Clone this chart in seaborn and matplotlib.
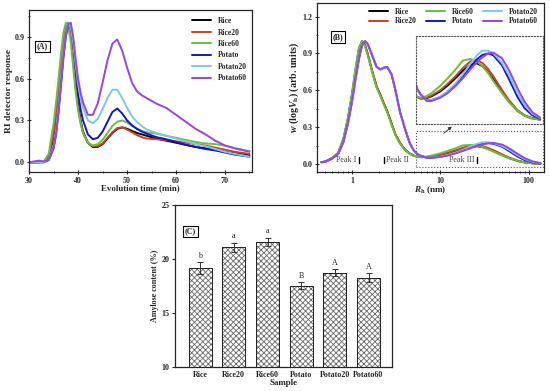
import numpy as np
import pandas as pd
import matplotlib
matplotlib.use("Agg")
import matplotlib.pyplot as plt
from matplotlib.patches import Rectangle
from matplotlib.ticker import MultipleLocator
import seaborn as sns

#### DATA ####
names = ["Rice", "Rice20", "Rice60", "Potato", "Potato20", "Potato60"]
colors = ["#000000", "#c8402a", "#6cbf3a", "#1414c8", "#7ec6ef", "#9b45dc"]

# (A) elution profiles
tA = [30, 32, 33, 34, 35, 35.5, 36, 36.5, 37, 37.5, 38, 38.5, 39, 39.5, 40, 40.5, 41,
      42, 43, 44, 45, 46, 47, 48, 49, 50, 51, 52, 53, 54, 56, 58, 60, 62, 64, 66, 68,
      70, 72, 75]
riA = [0, 0, 0.002, 0.03, 0.18, 0.32, 0.5, 0.68, 0.85, 0.96, 1.0, 0.93, 0.76, 0.57, 0.41,
       0.3, 0.22, 0.14, 0.11, 0.11, 0.13, 0.17, 0.21, 0.24, 0.25, 0.24, 0.225, 0.21, 0.2,
       0.19, 0.17, 0.155, 0.14, 0.125, 0.11, 0.1, 0.09, 0.075, 0.065, 0.05]
ri20A = [0, 0, 0.003, 0.04, 0.21, 0.36, 0.54, 0.72, 0.88, 0.98, 0.99, 0.9, 0.72, 0.54,
         0.39, 0.29, 0.21, 0.14, 0.115, 0.115, 0.135, 0.175, 0.215, 0.245, 0.25, 0.235,
         0.215, 0.195, 0.18, 0.17, 0.165, 0.16, 0.15, 0.14, 0.13, 0.12, 0.105, 0.09,
         0.075, 0.06]
ri60A = [0, 0, 0.005, 0.06, 0.28, 0.43, 0.6, 0.78, 0.93, 1.0, 0.97, 0.86, 0.68, 0.5, 0.37,
         0.28, 0.21, 0.14, 0.12, 0.13, 0.16, 0.21, 0.26, 0.29, 0.3, 0.285, 0.26, 0.24,
         0.225, 0.215, 0.205, 0.19, 0.175, 0.16, 0.145, 0.135, 0.13, 0.12, 0.1, 0.08]
poA = [0, 0, 0, 0.015, 0.1, 0.2, 0.36, 0.55, 0.75, 0.9, 0.99, 0.98, 0.86, 0.68, 0.5, 0.38,
       0.3, 0.2, 0.165, 0.175, 0.22, 0.29, 0.36, 0.385, 0.35, 0.3, 0.265, 0.24, 0.22,
       0.205, 0.18, 0.165, 0.145, 0.125, 0.11, 0.095, 0.085, 0.07, 0.055, 0.04]
po20A = [0, 0, 0, 0.02, 0.12, 0.23, 0.4, 0.6, 0.79, 0.93, 1.0, 0.97, 0.86, 0.7, 0.56,
         0.46, 0.39, 0.3, 0.28, 0.31, 0.38, 0.46, 0.52, 0.52, 0.46, 0.39, 0.33, 0.29,
         0.26, 0.235, 0.21, 0.19, 0.17, 0.15, 0.13, 0.115, 0.095, 0.075, 0.06, 0.04]
po60A = [0, 0.012, 0.005, 0.02, 0.11, 0.21, 0.37, 0.57, 0.77, 0.92, 0.99, 1.0, 0.9, 0.74,
         0.6, 0.5, 0.43, 0.34, 0.34, 0.42, 0.57, 0.73, 0.85, 0.88, 0.8, 0.68, 0.57, 0.51,
         0.48, 0.46, 0.42, 0.39, 0.34, 0.29, 0.24, 0.2, 0.155, 0.12, 0.1, 0.075]
seriesA = [riA, ri20A, ri60A, poA, po20A, po60A]

# (B) size distributions
rB = [0.45, 0.5, 0.6, 0.7, 0.8, 0.9, 1.0, 1.1, 1.2, 1.3, 1.4, 1.5, 1.7, 1.9, 2.1, 2.3,
      2.5, 2.8, 3.1, 3.5, 4.0, 4.5, 5.0, 5.5, 6.0, 7.0, 8.0, 10, 12, 15, 18, 22, 26, 30,
      35, 40, 50, 60, 75, 90, 110, 135]
riB = [0.015, 0.02, 0.05, 0.09, 0.2, 0.37, 0.56, 0.77, 0.94, 1.0, 0.97, 0.9, 0.75, 0.63,
       0.56, 0.49, 0.43, 0.33, 0.24, 0.17, 0.115, 0.085, 0.068, 0.06, 0.056, 0.057,
       0.062, 0.074, 0.088, 0.108, 0.126, 0.142, 0.145, 0.138, 0.122, 0.104, 0.072,
       0.048, 0.025, 0.013, 0.006, 0.003]
ri20B = [0.015, 0.02, 0.05, 0.09, 0.2, 0.37, 0.56, 0.77, 0.94, 1.0, 0.97, 0.9, 0.75, 0.63,
         0.56, 0.49, 0.43, 0.33, 0.24, 0.17, 0.115, 0.085, 0.068, 0.06, 0.057, 0.058,
         0.064, 0.077, 0.092, 0.113, 0.133, 0.15, 0.153, 0.146, 0.13, 0.112, 0.078,
         0.052, 0.027, 0.014, 0.007, 0.003]
ri60B = [0.015, 0.02, 0.05, 0.095, 0.21, 0.38, 0.58, 0.79, 0.95, 1.0, 0.96, 0.89, 0.74,
         0.62, 0.55, 0.48, 0.42, 0.32, 0.235, 0.165, 0.112, 0.083, 0.067, 0.06, 0.058,
         0.062, 0.07, 0.088, 0.106, 0.13, 0.152, 0.156, 0.15, 0.138, 0.12, 0.1, 0.07,
         0.047, 0.025, 0.013, 0.006, 0.003]
poB = [0.015, 0.02, 0.045, 0.085, 0.18, 0.33, 0.51, 0.7, 0.86, 0.97, 1.0, 0.98, 0.88,
       0.79, 0.77, 0.785, 0.79, 0.73, 0.6, 0.42, 0.28, 0.17, 0.11, 0.08, 0.066, 0.052,
       0.052, 0.06, 0.072, 0.092, 0.112, 0.136, 0.155, 0.166, 0.17, 0.165, 0.14, 0.105,
       0.06, 0.032, 0.014, 0.005]
po20B = [0.015, 0.02, 0.045, 0.085, 0.18, 0.33, 0.51, 0.7, 0.86, 0.97, 1.0, 0.98, 0.88,
         0.79, 0.77, 0.785, 0.79, 0.73, 0.6, 0.42, 0.28, 0.17, 0.11, 0.08, 0.066, 0.052,
         0.052, 0.061, 0.074, 0.095, 0.117, 0.144, 0.165, 0.177, 0.177, 0.17, 0.146,
         0.115, 0.07, 0.04, 0.018, 0.007]
po60B = [0.015, 0.02, 0.045, 0.085, 0.18, 0.33, 0.51, 0.7, 0.86, 0.97, 1.0, 0.98, 0.88,
         0.79, 0.77, 0.785, 0.79, 0.73, 0.6, 0.42, 0.28, 0.17, 0.11, 0.08, 0.068, 0.05,
         0.05, 0.058, 0.069, 0.088, 0.107, 0.13, 0.148, 0.16, 0.17, 0.172, 0.158, 0.128,
         0.082, 0.048, 0.022, 0.008]
seriesB = [riB, ri20B, ri60B, poB, po20B, po60B]
peak_pos = [1.2, 2.32, 26]
peak_names = ["Peak I", "Peak II", "Peak III"]

# (C) amylose content
amylose = [19.2, 21.1, 21.6, 17.55, 18.75, 18.3]
amylose_sd = [0.55, 0.45, 0.4, 0.3, 0.35, 0.4]
sig_letters = ["b", "a", "a", "B", "A", "A"]

#### STYLE ####
sns.set_style("ticks")
plt.rcParams["font.family"] = ["Liberation Serif", "DejaVu Serif"]
plt.rcParams["mathtext.fontset"] = "custom"
plt.rcParams["mathtext.rm"] = "Liberation Serif:bold"
plt.rcParams["mathtext.it"] = "Liberation Serif:bold:italic"
plt.rcParams["axes.linewidth"] = 0.9
plt.rcParams["font.weight"] = "bold"
plt.rcParams["hatch.linewidth"] = 0.6
plt.rcParams["lines.solid_joinstyle"] = "round"

fs = 5.8
fig = plt.figure(figsize=(5.5, 3.91), dpi=100)
axA = fig.add_axes([0.053, 0.56, 0.405, 0.414])
axB = fig.add_axes([0.576, 0.56, 0.413, 0.432])
axC = fig.add_axes([0.318, 0.061, 0.395, 0.414])


def box_label(ax, x, y, s):
    ax.text(x, y, s, transform=ax.transAxes, fontsize=fs, fontweight="bold",
            va="center", ha="left",
            bbox=dict(boxstyle="square,pad=0.2", fc="white", ec="black", lw=0.8))


# (A)
for n, c, v in zip(names, colors, seriesA):
    sns.lineplot(x=tA, y=v, ax=axA, color=c, lw=1.4, label=n, sort=False,
                 estimator=None)
axA.set_xlim(30, 75.5)
axA.set_ylim(-0.07, 1.09)
axA.xaxis.set_major_locator(MultipleLocator(10))
axA.xaxis.set_minor_locator(MultipleLocator(5))
axA.yaxis.set_major_locator(MultipleLocator(0.3))
axA.yaxis.set_minor_locator(MultipleLocator(0.15))
axA.tick_params(which="both", direction="inout", labelsize=fs, pad=1.5)
axA.tick_params(which="major", length=3.5)
axA.tick_params(which="minor", length=2)
axA.set_xlabel("Evolution time (min)", fontsize=6.4, fontweight="bold", labelpad=0)
axA.set_ylabel("RI detector response", fontsize=6.8, fontweight="bold", labelpad=1)
axA.legend(loc="upper right", bbox_to_anchor=(1.0, 0.99), frameon=False,
           fontsize=fs - 0.3, handlelength=2.6, labelspacing=0.45, borderaxespad=0.3)
box_label(axA, 0.035, 0.775, "(A)")

# (B)
axB.set_xscale("log")
for n, c, v in zip(names, colors, seriesB):
    sns.lineplot(x=rB, y=v, ax=axB, color=c, lw=1.4, label=n, sort=False,
                 estimator=None)
axB.set_xlim(0.4, 148)
axB.set_ylim(-0.065, 1.31)
axB.yaxis.set_major_locator(MultipleLocator(0.3))
axB.yaxis.set_minor_locator(MultipleLocator(0.15))
axB.set_xticks([1, 10, 100], ["1", "10", "100"])
axB.tick_params(which="both", direction="inout", labelsize=fs, pad=1.5)
axB.tick_params(which="major", length=3.5)
axB.tick_params(which="minor", length=2)
axB.set_xlabel(r"$R_{\rm h}$ (nm)", fontsize=6.6, fontweight="bold", labelpad=0)
axB.set_ylabel(r"$w$ (log$V_{\rm h}$) (arb. units)", fontsize=7.2, fontweight="bold",
               labelpad=1)
axB.legend(loc="upper center", bbox_to_anchor=(0.6, 1.0), ncol=3, frameon=False,
           fontsize=fs - 0.3, handlelength=2.6, columnspacing=1.2, labelspacing=0.2,
           borderaxespad=0.2)
box_label(axB, 0.07, 0.8, "(B)")
for i, (p, s) in enumerate(zip(peak_pos, peak_names)):
    axB.plot([p, p], [0.008, 0.06], color="black", lw=1.0)
    if i == 1:
        axB.text(p * 1.04, 0.033, s, fontsize=fs, fontweight="normal", color="#444444",
                 ha="left", va="center")
    else:
        axB.text(p * 0.93, 0.033, s, fontsize=fs, fontweight="normal", color="#444444",
                 ha="right", va="center")
axB.add_patch(Rectangle((5.3, -0.022), 140, 0.29, fill=False, ls=":", lw=0.8,
                        ec="#555555"))
axB.annotate("", xy=(14.2, 0.32), xytext=(10.3, 0.235),
             arrowprops=dict(arrowstyle="-|>", color="#333333", lw=0.6,
                             mutation_scale=5))

axIn = fig.add_axes([0.756, 0.683, 0.231, 0.225])
axIn.set_xscale("log")
for c, v in zip(colors, seriesB):
    sns.lineplot(x=rB, y=v, ax=axIn, color=c, lw=1.4, sort=False, estimator=None,
                 legend=False)
axIn.set_xlim(5.3, 145)
axIn.set_ylim(-0.008, 0.214)
axIn.set_xticks([])
axIn.set_yticks([])
axIn.minorticks_off()
axIn.set_xlabel("")
axIn.set_ylabel("")
axIn.patch.set_alpha(0)
for sp in axIn.spines.values():
    sp.set_linestyle(":")
    sp.set_linewidth(0.8)
    sp.set_edgecolor("#555555")

# (C)
dfC = pd.DataFrame({"Sample": names, "Amylose": amylose})
sns.barplot(data=dfC, x="Sample", y="Amylose", ax=axC, color="white", width=0.68,
            edgecolor="#6a6a6a", linewidth=0.5, hatch="xxxxxx", errorbar=None)
for patch in axC.patches:
    axC.add_patch(Rectangle(patch.get_xy(), patch.get_width(), patch.get_height(),
                            fill=False, ec="#222222", lw=0.7))
xs = np.arange(len(names))
axC.errorbar(xs, amylose, yerr=amylose_sd, fmt="none", ecolor="#333333",
             elinewidth=0.7, capsize=2, capthick=0.7)
for x, m, s, l in zip(xs, amylose, amylose_sd, sig_letters):
    axC.text(x, m + s + 0.2, l, ha="center", va="bottom", fontsize=fs,
             fontweight="normal")
axC.set_xlim(-0.75, 5.7)
axC.set_ylim(10, 25)
axC.yaxis.set_major_locator(MultipleLocator(5))
axC.tick_params(axis="y", direction="out", length=2.5, labelsize=fs, pad=1.5)
axC.tick_params(axis="x", length=0, labelsize=fs, pad=3)
for lab in axC.get_xticklabels() + axC.get_yticklabels():
    lab.set_fontweight("bold")
axC.set_xlabel("Sample", fontsize=fs + 0.6, fontweight="bold", labelpad=-0.5)
axC.set_ylabel("Amylose content (%)", fontsize=fs, fontweight="bold", labelpad=2)
for sp in axC.spines.values():
    sp.set_visible(True)
box_label(axC, 0.045, 0.84, "(C)")

for ax in (axA, axB):
    for lab in ax.get_xticklabels() + ax.get_yticklabels():
        lab.set_fontweight("bold")

fig.savefig("out.png", dpi=100)
